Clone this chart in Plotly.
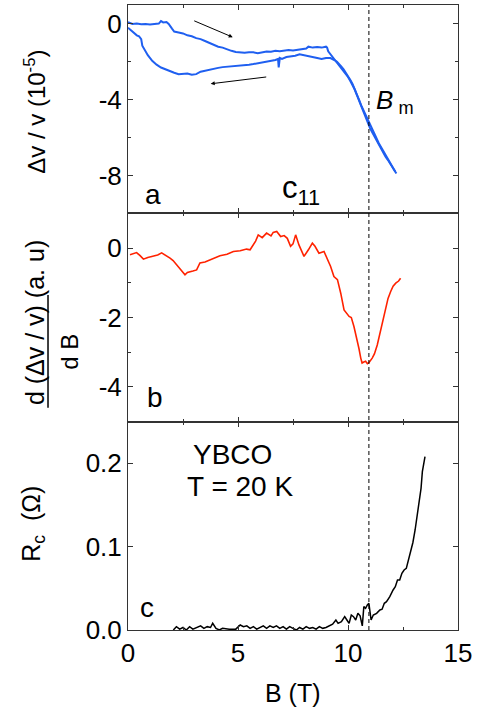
import plotly.graph_objects as go
from plotly.subplots import make_subplots

# Panel a: relative sound velocity change, field sweep up then down
b_up = [0.0, 0.1, 0.2, 0.4, 0.6, 0.8, 1.0, 1.2, 1.4, 1.5, 1.6, 1.75, 1.85, 2.0, 2.1,
        2.3, 2.5, 2.7, 2.9, 3.1, 3.3, 3.5, 3.7, 3.9, 4.1, 4.3, 4.5, 4.7, 4.9, 5.1,
        5.3, 5.5, 5.7, 5.9, 6.1, 6.3, 6.5, 6.7, 6.9, 7.1, 7.3, 7.5, 7.7, 7.9, 8.1,
        8.2, 8.4, 8.6, 8.8, 9.0, 9.05, 9.1, 9.2, 9.3, 9.4, 9.5, 9.6, 9.7, 9.8, 9.9,
        10.0, 10.1, 10.2, 10.3, 10.4, 10.5, 10.6, 10.7, 10.8, 10.9, 11.0, 11.1, 11.2,
        11.3, 11.4, 11.5, 11.6, 11.7, 11.8, 11.9, 12.0, 12.1, 12.2]
dv_up = [0.1, 0.05, 0.0, 0.02, -0.02, 0.0, -0.03, 0.0, 0.02, 0.15, 0.08, 0.1, 0.0, -0.25,
         -0.4, -0.45, -0.5, -0.6, -0.65, -0.75, -0.8, -0.9, -1.0, -1.1, -1.2, -1.25,
         -1.35, -1.42, -1.48, -1.5, -1.52, -1.5, -1.5, -1.55, -1.48, -1.45, -1.47,
         -1.42, -1.44, -1.4, -1.38, -1.4, -1.37, -1.35, -1.3, -1.2, -1.25, -1.22,
         -1.25, -1.2, -1.25, -1.45, -1.6, -1.72, -1.85, -2.0, -2.15, -2.3, -2.45,
         -2.62, -2.8, -3.0, -3.2, -3.45, -3.75, -4.05, -4.4, -4.7, -5.0, -5.25, -5.5,
         -5.72, -5.93, -6.15, -6.4, -6.63, -6.82, -7.0, -7.16, -7.35, -7.55, -7.72, -7.9]

b_down = [12.15, 12.0, 11.8, 11.6, 11.4, 11.2, 11.0, 10.9, 10.8, 10.7, 10.6, 10.5, 10.4,
          10.3, 10.2, 10.1, 10.0, 9.9, 9.8, 9.7, 9.6, 9.5, 9.4, 9.3, 9.2, 9.0, 8.8, 8.6,
          8.4, 8.2, 8.0, 7.8, 7.6, 7.4, 7.2, 7.0, 6.9, 6.85, 6.82, 6.7, 6.5, 6.3, 6.1,
          5.9, 5.7, 5.5, 5.3, 5.1, 4.9, 4.7, 4.5, 4.3, 4.1, 3.9, 3.7, 3.5, 3.3, 3.1,
          2.9, 2.7, 2.5, 2.3, 2.1, 1.9, 1.7, 1.5, 1.3, 1.1, 0.9, 0.75, 0.65, 0.6, 0.5,
          0.4, 0.3, 0.2, 0.1, 0.0]
dv_down = [-7.8, -7.5, -7.1, -6.7, -6.3, -5.8, -5.3, -5.05, -4.85, -4.6, -4.3, -4.0, -3.7,
           -3.4, -3.15, -2.95, -2.75, -2.55, -2.4, -2.25, -2.1, -2.0, -1.92, -1.85, -1.8,
           -1.8, -1.85, -1.8, -1.75, -1.72, -1.65, -1.6, -1.68, -1.72, -1.75, -1.85,
           -1.8, -2.3, -1.85, -1.9, -1.95, -2.0, -2.05, -2.08, -2.12, -2.15, -2.17,
           -2.2, -2.2, -2.22, -2.25, -2.28, -2.32, -2.38, -2.42, -2.48, -2.52, -2.65,
           -2.68, -2.62, -2.62, -2.65, -2.58, -2.5, -2.42, -2.3, -2.15, -1.95, -1.65,
           -1.35, -1.15, -0.8, -0.65, -0.6, -0.5, -0.42, -0.35, -0.2]

# Panel b: field derivative of the velocity change
b_deriv = [0.09, 0.25, 0.39, 0.55, 0.70, 0.9, 1.15, 1.35, 1.53, 1.7, 1.91, 2.05, 2.21,
           2.4, 2.59, 2.7, 2.82, 2.95, 3.12, 3.27, 3.5, 3.73, 3.95, 4.18, 4.5, 4.79,
           5.1, 5.39, 5.55, 5.70, 5.8, 5.92, 6.1, 6.3, 6.5, 6.6, 6.76, 6.94, 7.1, 7.24,
           7.39, 7.5, 7.62, 7.77, 7.9, 8.0, 8.2, 8.38, 8.5, 8.68, 8.91, 9.05, 9.21,
           9.36, 9.52, 9.67, 9.82, 10.05, 10.15, 10.27, 10.42, 10.5, 10.58, 10.64,
           10.72, 10.8, 10.88, 10.95, 11.1, 11.2, 11.33, 11.48, 11.6, 11.7, 11.82,
           11.94, 12.05, 12.17, 12.3, 12.39]
d_dv = [-0.19, -0.16, -0.13, -0.22, -0.32, -0.27, -0.24, -0.2, -0.14, -0.2, -0.29,
        -0.36, -0.48, -0.62, -0.77, -0.7, -0.67, -0.66, -0.63, -0.43, -0.4, -0.34,
        -0.3, -0.22, -0.18, -0.1, -0.08, -0.03, -0.05, 0.1, 0.2, 0.38, 0.3, 0.43,
        0.35, 0.45, 0.48, 0.33, 0.36, 0.28, 0.05, 0.12, 0.38, 0.09, -0.1, -0.24,
        -0.05, 0.14, 0.05, -0.15, -0.1, -0.3, -0.53, -0.82, -0.91, -1.3, -1.78,
        -1.97, -2.0, -2.26, -2.64, -2.9, -3.17, -3.31, -3.28, -3.26, -3.33, -3.3,
        -3.17, -3.05, -2.79, -2.35, -2.05, -1.73, -1.45, -1.25, -1.1, -1.01, -0.95,
        -0.87]

# Panel c: c-axis resistance
b_res = [2.06, 2.2, 2.35, 2.5, 2.65, 2.8, 2.95, 3.1, 3.3, 3.45, 3.6, 3.75, 3.85, 4.0,
         4.15, 4.3, 4.6, 4.9, 5.1, 5.25, 5.4, 5.55, 5.7, 5.85, 6.0, 6.15, 6.3, 6.45,
         6.6, 6.75, 6.9, 7.05, 7.2, 7.35, 7.5, 7.65, 7.8, 7.95, 8.1, 8.25, 8.4, 8.55,
         8.7, 8.85, 9.0, 9.15, 9.3, 9.45, 9.55, 9.7, 9.85, 9.95, 10.05, 10.15, 10.25,
         10.35, 10.45, 10.55, 10.65, 10.72, 10.8, 10.88, 10.95, 11.05, 11.15, 11.3,
         11.45, 11.55, 11.65, 11.75, 11.9, 12.05, 12.15, 12.25, 12.35, 12.45, 12.55,
         12.65, 12.75, 12.85, 12.95, 13.05, 13.12, 13.2, 13.28, 13.32, 13.38, 13.45, 13.5]
r_c = [0.0, 0.004, 0.001, 0.003, 0.0, 0.004, 0.001, 0.003, 0.005, 0.002, 0.004, 0.003,
       0.008, 0.002, 0.0, 0.002, 0.001, 0.001, 0.006, 0.004, 0.005, 0.002, 0.004,
       0.001, 0.003, 0.005, 0.002, 0.005, 0.003, 0.005, 0.002, 0.004, 0.001, 0.004,
       0.002, 0.0, 0.003, 0.001, 0.004, 0.002, 0.003, 0.001, 0.004, 0.002, 0.003,
       0.005, 0.007, 0.012, 0.008, 0.01, 0.016, 0.012, 0.008, 0.018, 0.016, 0.012,
       0.02, 0.017, 0.005, 0.028, 0.026, 0.03, 0.032, 0.012, 0.018, 0.02, 0.024,
       0.025, 0.032, 0.034, 0.04, 0.048, 0.052, 0.06, 0.06, 0.068, 0.072, 0.074,
       0.085, 0.095, 0.105, 0.12, 0.132, 0.145, 0.16, 0.17, 0.19, 0.2, 0.208]

B_M = 10.95  # melting field marker

x_ticks = [0, 5, 10, 15]
y1_ticks, y1_text = [0, -4, -8], ["0", "-4", "-8"]
y2_ticks, y2_text = [0, -2, -4], ["0", "-2", "-4"]
y3_ticks, y3_text = [0, 0.1, 0.2], ["0.0", "0.1", "0.2"]

FONT = "Liberation Sans, Arial, sans-serif"
AX = "#333333"
BLUE = "#1f5ff0"
RED = "#ff2200"

fig = make_subplots(rows=3, cols=1, shared_xaxes=True, vertical_spacing=0)

fig.add_trace(go.Scatter(x=b_up, y=dv_up, mode="lines",
                         line=dict(color=BLUE, width=2)), row=1, col=1)
fig.add_trace(go.Scatter(x=b_down, y=dv_down, mode="lines",
                         line=dict(color=BLUE, width=2)), row=1, col=1)
fig.add_trace(go.Scatter(x=b_deriv, y=d_dv, mode="lines",
                         line=dict(color=RED, width=1.6)), row=2, col=1)
fig.add_trace(go.Scatter(x=b_res, y=r_c, mode="lines",
                         line=dict(color="black", width=1.5)), row=3, col=1)

common = dict(showline=True, linecolor=AX, linewidth=1, mirror="ticks",
              ticks="inside", ticklen=5, tickwidth=1, tickcolor=AX,
              showgrid=False, zeroline=False,
              tickfont=dict(family=FONT, size=26, color="black"))

for r in (1, 2, 3):
    fig.update_xaxes(range=[0, 15], tickvals=x_ticks,
                     minor=dict(dtick=2.5, tick0=0, ticks="inside", ticklen=3,
                                tickcolor=AX, showgrid=False),
                     showticklabels=(r == 3), row=r, col=1, **common)

fig.update_yaxes(range=[-10, 1], tickvals=y1_ticks, ticktext=y1_text,
                 minor=dict(tickvals=[-2, -6], ticks="inside", ticklen=3, tickcolor=AX,
                            showgrid=False),
                 row=1, col=1, **common)
fig.update_yaxes(range=[-5, 1], tickvals=y2_ticks, ticktext=y2_text,
                 minor=dict(tickvals=[-1, -3], ticks="inside", ticklen=3, tickcolor=AX,
                            showgrid=False),
                 row=2, col=1, **common)
fig.update_yaxes(range=[0, 0.25], tickvals=y3_ticks, ticktext=y3_text,
                 row=3, col=1, **common)

# dashed marker spanning all three panels
fig.add_shape(type="line", xref="x", yref="paper", x0=B_M, x1=B_M, y0=0, y1=1,
              line=dict(color="black", width=1, dash="4px,3px"))
# fraction bar of the derivative axis title
fig.add_shape(type="line", xref="paper", yref="paper", x0=-0.2424, x1=-0.2424,
              y0=0.3555, y1=0.5362, line=dict(color="black", width=1.5))

tf = dict(family=FONT, size=28, color="black")
ttl = dict(family=FONT, size=24, color="black")
ann = [
    dict(x=1.14, y=-9.0, xref="x", yref="y", text="a", font=tf),
    dict(x=7.85, y=-8.75, xref="x", yref="y", text="c<sub>11</sub>",
         font=dict(family=FONT, size=31, color="black")),
    dict(x=12.15, y=-4.1, xref="x", yref="y", text="<i>B</i><sub> m</sub>",
         font=dict(family=FONT, size=26, color="black")),
    dict(x=1.23, y=-4.29, xref="x2", yref="y2", text="b", font=tf),
    dict(x=4.73, y=0.21, xref="x3", yref="y3", text="YBCO", font=tf),
    dict(x=5.09, y=0.172, xref="x3", yref="y3", text="T = 20 K", font=tf),
    dict(x=0.86, y=0.027, xref="x3", yref="y3", text="c", font=tf),
    # sweep-direction arrows
    dict(x=4.76, y=-0.70, xref="x", yref="y", ax=-40, ay=-17, text="",
         showarrow=True, arrowhead=2, arrowsize=0.8, arrowwidth=1, arrowcolor="black"),
    dict(x=3.76, y=-3.16, xref="x", yref="y", ax=57, ay=-7, text="",
         showarrow=True, arrowhead=2, arrowsize=0.8, arrowwidth=1, arrowcolor="black"),
    # axis titles
    dict(x=-0.282, y=0.829, xref="paper", yref="paper", textangle=-90,
         text="Δv / v (10<sup>-5</sup>)", font=ttl),
    dict(x=-0.283, y=0.492, xref="paper", yref="paper", textangle=-90,
         text="d (Δv / v) (a. u)", font=dict(family=FONT, size=25, color="black")),
    dict(x=-0.176, y=0.445, xref="paper", yref="paper", textangle=-90,
         text="d B", font=ttl),
    dict(x=-0.288, y=0.170, xref="paper", yref="paper", textangle=-90,
         text="R<sub>c</sub>  (Ω)", font=dict(family=FONT, size=25, color="black")),
    dict(x=0.5, y=-0.10, xref="paper", yref="paper",
         text="B (T)", font=dict(family=FONT, size=25, color="black")),
]
for a in ann:
    a.setdefault("showarrow", False)
    a.setdefault("xanchor", "center")
    a.setdefault("yanchor", "middle")
fig.update_layout(annotations=ann)

fig.update_layout(width=478, height=715, showlegend=False,
                  margin=dict(l=128, r=20, t=5, b=85),
                  paper_bgcolor="white", plot_bgcolor="white",
                  font=dict(family=FONT, color="black"))

fig.write_html("out.html")
